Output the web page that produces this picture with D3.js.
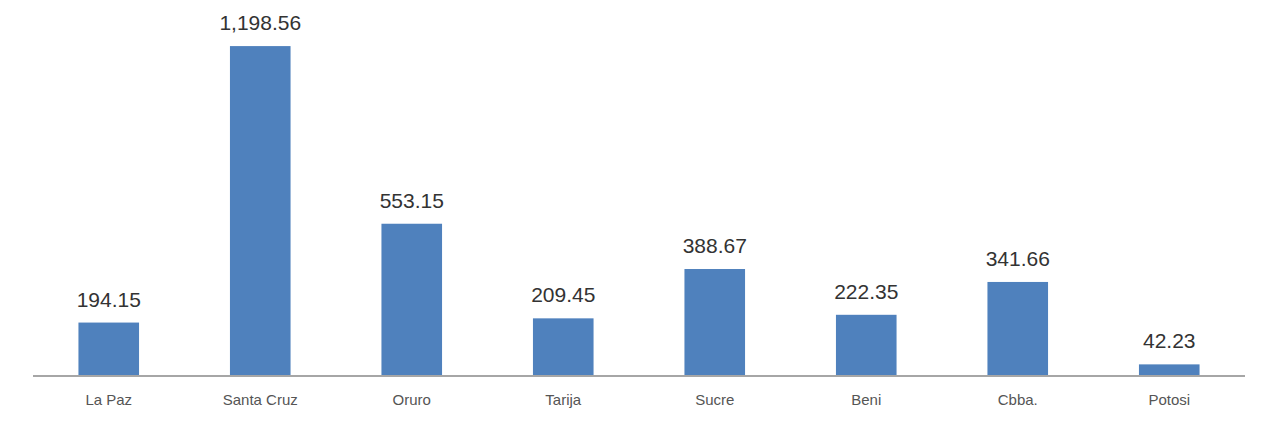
<!DOCTYPE html>
<html>
<head>
<meta charset="utf-8">
<script src="https://cdn.jsdelivr.net/npm/d3@7"></script>
<style>
  html, body { margin: 0; padding: 0; background: #fff; }
  svg { display: block; }
</style>
</head>
<body>
<svg id="chart" width="1265" height="426"></svg>
<script>
// Departments and their values
const categories = ["La Paz", "Santa Cruz", "Oruro", "Tarija", "Sucre", "Beni", "Cbba.", "Potosi"];
const values = [194.15, 1198.56, 553.15, 209.45, 388.67, 222.35, 341.66, 42.23];

const svg = d3.select("#chart");
const plot = { left: 33, right: 1245, top: 0, base: 376 };

const x = d3.scaleBand()
  .domain(categories)
  .range([plot.left, plot.right])
  .paddingInner(0.6)
  .paddingOuter(0.3);

const y = d3.scaleLinear()
  .domain([0, 1366])
  .range([plot.base, plot.top]);

const fmt = d3.format(",.2f");

// Bars
svg.append("g")
  .selectAll("rect")
  .data(values)
  .join("rect")
  .attr("x", (d, i) => x(categories[i]))
  .attr("y", d => y(d))
  .attr("width", x.bandwidth())
  .attr("height", d => y(0) - y(d))
  .attr("fill", "#4f81bd");

// Value labels above bars
svg.append("g")
  .selectAll("text")
  .data(values)
  .join("text")
  .attr("x", (d, i) => x(categories[i]) + x.bandwidth() / 2)
  .attr("y", d => y(d) - 16)
  .attr("text-anchor", "middle")
  .attr("font-family", "Liberation Sans, Arial, sans-serif")
  .attr("font-size", 21)
  .attr("fill", "#333")
  .text(d => fmt(d));

// Category axis
const axis = svg.append("g")
  .attr("transform", `translate(0,${plot.base})`)
  .call(d3.axisBottom(x).tickSize(0).tickPadding(18));
axis.select(".domain")
  .attr("d", `M${plot.left},0H${plot.right}`)
  .attr("stroke", "#a6a6a6")
  .attr("stroke-width", 2);
axis.selectAll(".tick text")
  .attr("font-family", "Liberation Sans, Arial, sans-serif")
  .attr("font-size", 15)
  .attr("fill", "#555");
</script>
</body>
</html>
